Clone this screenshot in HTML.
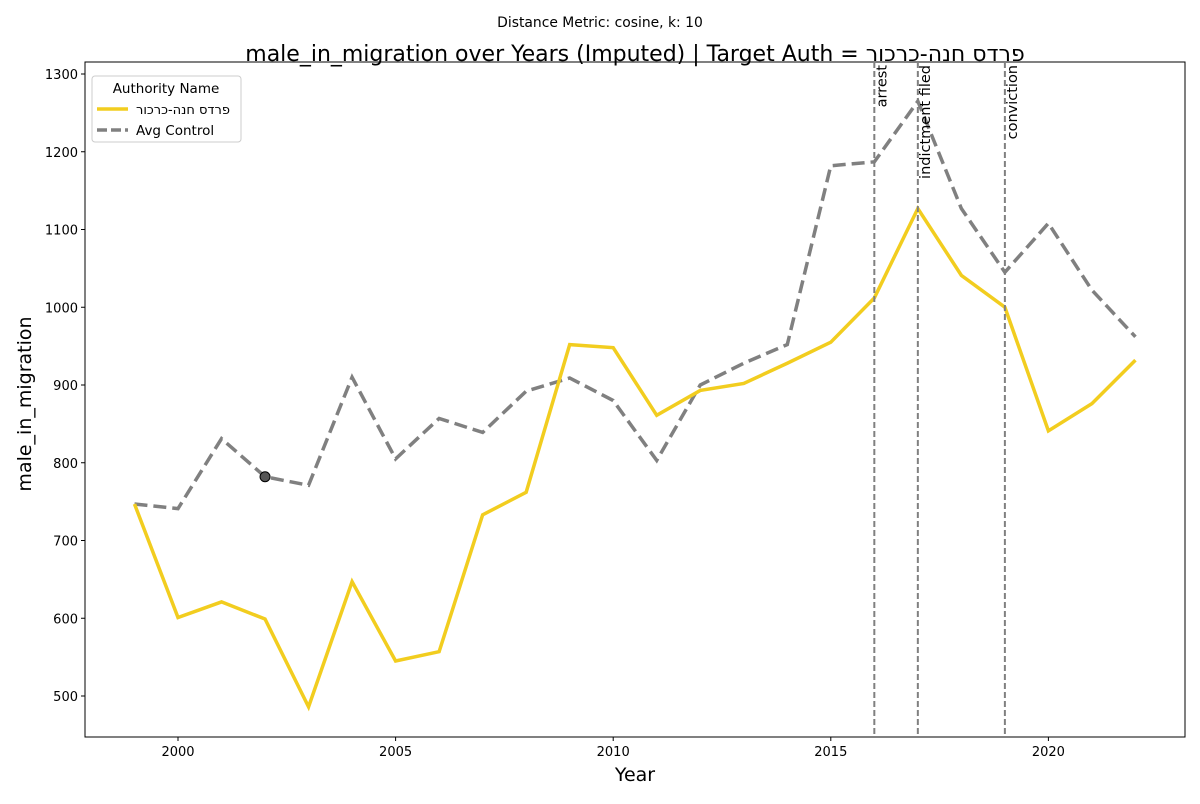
<!DOCTYPE html>
<html><head><meta charset="utf-8"><style>
body{margin:0;background:#fff;font-family:"DejaVu Sans","Liberation Sans",sans-serif;}
</style></head><body>
<svg id="chart" width="1200" height="800" xmlns="http://www.w3.org/2000/svg" font-family="'DejaVu Sans','Liberation Sans',sans-serif">
<text x="600" y="27" text-anchor="middle" font-size="13.9">Distance Metric: cosine, k: 10</text>
<text x="635" y="61" text-anchor="middle" font-size="22">male_in_migration over Years (Imputed) | Target Auth = &#x202D;רוכרכ-הנח סדרפ&#x202C;</text>
<rect x="85" y="62" width="1100" height="675" fill="none" stroke="#000" stroke-width="1"/>
<text x="635" y="781" text-anchor="middle" font-size="19">Year</text>
<text transform="translate(31,404) rotate(-90)" text-anchor="middle" font-size="19">male_in_migration</text>
<g id="marks"></g>
<g>
<rect x="92" y="76" width="149" height="66" rx="3" fill="#fff" fill-opacity="0.8" stroke="#ccc"/>
<text x="166" y="93" text-anchor="middle" font-size="13.5">Authority Name</text>
<line x1="97" y1="109" x2="128" y2="109" stroke="#f2cd1f" stroke-width="3.5"/>
<text x="136" y="114" font-size="13">&#x202D;רוכרכ-הנח סדרפ&#x202C;</text>
<line x1="97" y1="130" x2="128" y2="130" stroke="#808080" stroke-width="3.5" stroke-dasharray="10,4"/>
<text x="136" y="135" font-size="13.5">Avg Control</text>
</g>
</svg>
<script>
const years=[1999,2000,2001,2002,2003,2004,2005,2006,2007,2008,2009,2010,2011,2012,2013,2014,2015,2016,2017,2018,2019,2020,2021,2022];
const targetVals=[747,601,621,599,486,647,545,557,733,762,952,948,861,893,902,928,955,1012,1127,1041,1000,841,876,932];
const controlVals=[747,741,831,782,771,910,805,857,839,892,909,880,803,900,928,952,1182,1187,1265,1127,1045,1108,1022,962];
const xTicks=[2000,2005,2010,2015,2020];
const yTicks=[500,600,700,800,900,1000,1100,1200,1300];
const events=[[2016,"arrest"],[2017,"indictment filed"],[2019,"conviction"]];
const markerYear=2002;
const X=v=>178+(v-2000)*43.52;
const Y=v=>696-(v-500)*0.7775;
const svg=document.getElementById('chart');
const g=document.getElementById('marks');
const NS="http://www.w3.org/2000/svg";
function mk(t,a,p){const e=document.createElementNS(NS,t);for(const k in a)e.setAttribute(k,a[k]);(p||svg).appendChild(e);return e;}
xTicks.forEach(t=>{
 const l=mk('line',{x1:X(t),x2:X(t),y1:737,y2:741,stroke:'#000'});
 
 
 const s=mk('text',{x:X(t),y:756,'text-anchor':'middle','font-size':13});s.textContent=t;
 
 
});
yTicks.forEach(t=>{
 const l=mk('line',{x1:81,x2:85,y1:Y(t),y2:Y(t),stroke:'#000'});
 
 
 const s=mk('text',{x:78,y:Y(t)+5,'text-anchor':'end','font-size':13});s.textContent=t;
 
 
});
function pts(vals){return years.map((y,i)=>X(y)+','+Y(vals[i])).join(' ');}
const ctl=mk('polyline',{points:pts(controlVals),fill:'none',stroke:'#808080','stroke-width':3.5,'stroke-dasharray':'13,6'},g);


const tgt=mk('polyline',{points:pts(targetVals),fill:'none',stroke:'#f2cd1f','stroke-width':3.5},g);


const mi=years.indexOf(markerYear);
const m=mk('circle',{cx:X(markerYear),cy:Y(controlVals[mi]),r:5,fill:'#555',stroke:'#000'},g);


events.forEach(([y,lab])=>{
 const l=mk('line',{x1:X(y),x2:X(y),y1:62,y2:737,stroke:'#808080','stroke-width':2,'stroke-dasharray':'6,3'},g);
 
 
 const t=mk('text',{transform:`translate(${X(y)+12},65) rotate(-90)`,'text-anchor':'end','font-size':14.5},g);t.textContent=lab;
 
 
});
</script>
</body></html>
